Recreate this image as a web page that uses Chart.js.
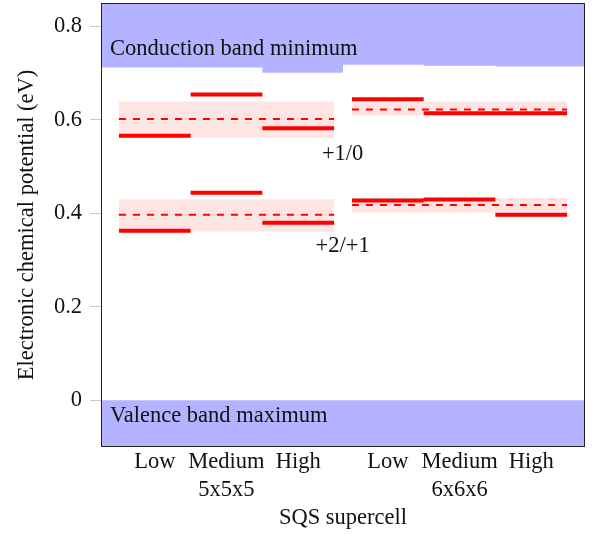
<!DOCTYPE html>
<html><head><meta charset="utf-8">
<script src="https://cdn.jsdelivr.net/npm/chart.js@4"></script>
<style>html,body{margin:0;padding:0;background:#fff}canvas{display:block}</style>
</head><body>
<canvas id="c" width="598" height="534"></canvas>
<script>
// ---- data ----
const categories = ['Low', 'Medium', 'High', 'Low', 'Medium', 'High'];
const catX = [1, 2, 3, 4.25, 5.25, 6.25];
const groups = ['5x5x5', '6x6x6'];
const groupMembers = [[0, 1, 2], [3, 4, 5]];
const level10 = [0.566, 0.654, 0.582, 0.644, 0.614, 0.614];   // +1/0
const level21 = [0.3625, 0.444, 0.380, 0.4275, 0.4295, 0.397]; // +2/+1
const mean10 = [0.602, 0.622];
const band10Lo = [0.562, 0.610];
const band10Hi = [0.639, 0.639];
const mean21 = [0.397, 0.418];
const band21Lo = [0.361, 0.402];
const band21Hi = [0.430, 0.433];
const cbm = [0.712, 0.712, 0.701, 0.718, 0.716, 0.714];
const vbm = [0, 0, 0, 0, 0, 0];
const yTicks = [0, 0.2, 0.4, 0.6, 0.8];

// ---- layout / style ----
const X_MIN = 0.25, X_MAX = 7, Y_MIN = -0.1, Y_MAX = 0.85;
const FONT = '"Liberation Serif", "Times New Roman", serif';
const FS = 22.5;
const RED = '#ff0000';
const BLUE = 'rgb(179,179,255)';
const PINK = 'rgb(255,228,228)';

function segs(vals) {
  const d = [];
  vals.forEach((v, i) => {
    d.push({x: catX[i] - 0.5, y: v}, {x: catX[i] + 0.5, y: v}, {x: catX[i] + 0.5, y: null});
  });
  return d;
}
function stepPts(vals) {
  const d = [{x: X_MIN, y: vals[0]}];
  for (let i = 1; i < vals.length; i++) {
    const b = (catX[i - 1] + catX[i]) / 2;
    d.push({x: b, y: vals[i - 1]}, {x: b, y: vals[i]});
  }
  d.push({x: X_MAX, y: vals[vals.length - 1]});
  return d;
}
function groupLine(g, v) {
  const m = groupMembers[g];
  return [{x: catX[m[0]] - 0.5, y: v}, {x: catX[m[m.length - 1]] + 0.5, y: v}];
}

const datasets = [];
datasets.push({data: segs(level10), borderColor: RED, borderWidth: 4, borderCapStyle: 'butt', order: 0});
datasets.push({data: segs(level21), borderColor: RED, borderWidth: 4, borderCapStyle: 'butt', order: 0});
groups.forEach((g, i) => {
  datasets.push({data: groupLine(i, mean10[i]), borderColor: RED, borderWidth: 2, borderDash: [7, 7], order: 1});
  datasets.push({data: groupLine(i, mean21[i]), borderColor: RED, borderWidth: 2, borderDash: [7, 7], order: 1});
});
groups.forEach((g, i) => {
  [[band10Hi, band10Lo], [band21Hi, band21Lo]].forEach(([hi, lo]) => {
    const idx = datasets.length;
    datasets.push({data: groupLine(i, hi[i]), borderWidth: 0, borderColor: 'rgba(0,0,0,0)', backgroundColor: PINK, fill: {target: idx + 1}, order: 2});
    datasets.push({data: groupLine(i, lo[i]), borderWidth: 0, borderColor: 'rgba(0,0,0,0)', fill: false, order: 2});
  });
});
datasets.push({data: stepPts(cbm), borderWidth: 0, borderColor: 'rgba(0,0,0,0)', backgroundColor: BLUE, fill: 'end', order: 3});
datasets.push({data: stepPts(vbm), borderWidth: 0, borderColor: 'rgba(0,0,0,0)', backgroundColor: BLUE, fill: 'start', order: 3});

const textLabels = [
  {text: 'Conduction band minimum', x: 0.375, y: 0.752, align: 'left'},
  {text: 'Valence band maximum', x: 0.375, y: -0.034, align: 'left'},
  {text: '+1/0', x: 3.62, y: 0.527, align: 'center'},
  {text: '+2/+1', x: 3.62, y: 0.330, align: 'center'}
];

const overlay = {
  id: 'overlay',
  afterDatasetsDraw(chart) {
    const {ctx, chartArea: a, scales} = chart;
    ctx.save();
    ctx.font = FS + 'px ' + FONT;
    ctx.fillStyle = '#111';
    ctx.textBaseline = 'middle';
    textLabels.forEach(l => {
      ctx.textAlign = l.align;
      ctx.fillText(l.text, scales.x.getPixelForValue(l.x), scales.y.getPixelForValue(l.y));
    });
    ctx.strokeStyle = '#222';
    ctx.lineWidth = 1;
    ctx.strokeRect(a.left + 0.5, a.top + 0.5, a.width - 1, a.height - 1);
    ctx.restore();
  }
};

function noPad(s) { s.paddingTop = 0; s.paddingBottom = 0; s.paddingLeft = 0; s.paddingRight = 0; }

new Chart(document.getElementById('c'), {
  type: 'line',
  data: {datasets},
  options: {
    responsive: false,
    animation: false,
    devicePixelRatio: 1,
    spanGaps: false,
    elements: {point: {radius: 0, hoverRadius: 0}, line: {tension: 0}},
    layout: {padding: {left: 0, top: 3, right: 13, bottom: 0}},
    plugins: {legend: {display: false}, tooltip: {enabled: false}},
    scales: {
      x: {
        type: 'linear', position: 'bottom', min: X_MIN, max: X_MAX, weight: 0,
        afterBuildTicks: s => { s.ticks = catX.map(v => ({value: v})); },
        afterFit: s => { s.height = 30; noPad(s); },
        grid: {display: false, drawTicks: false},
        border: {display: false},
        ticks: {
          autoSkip: false, maxRotation: 0, padding: 2,
          font: {family: FONT, size: FS}, color: '#111',
          callback: (v, i) => categories[i]
        }
      },
      x2: {
        type: 'linear', position: 'bottom', min: X_MIN, max: X_MAX, weight: 1,
        afterBuildTicks: s => {
          s.ticks = groupMembers.map(m => ({value: (catX[m[0]] + catX[m[m.length - 1]]) / 2}));
        },
        afterFit: s => { s.height = 57; noPad(s); },
        grid: {display: false, drawTicks: false},
        border: {display: false},
        ticks: {
          autoSkip: false, maxRotation: 0, padding: 0,
          font: {family: FONT, size: FS}, color: '#111',
          callback: (v, i) => groups[i]
        },
        title: {display: true, text: 'SQS supercell', font: {family: FONT, size: FS}, color: '#111', padding: {top: 0, bottom: 2}}
      },
      y: {
        type: 'linear', min: Y_MIN, max: Y_MAX,
        afterBuildTicks: s => { s.ticks = yTicks.map(v => ({value: v})); },
        afterFit: s => { s.width = 101; noPad(s); },
        grid: {drawOnChartArea: false, tickLength: 11, color: '#c8c8c8'},
        border: {display: false},
        ticks: {
          padding: 8, font: {family: FONT, size: FS}, color: '#111',
          callback: v => String(v)
        },
        title: {display: true, text: 'Electronic chemical potential (eV)', font: {family: FONT, size: FS}, color: '#111', padding: {top: 14, bottom: 0}}
      }
    }
  },
  plugins: [overlay]
});
</script>
</body></html>
